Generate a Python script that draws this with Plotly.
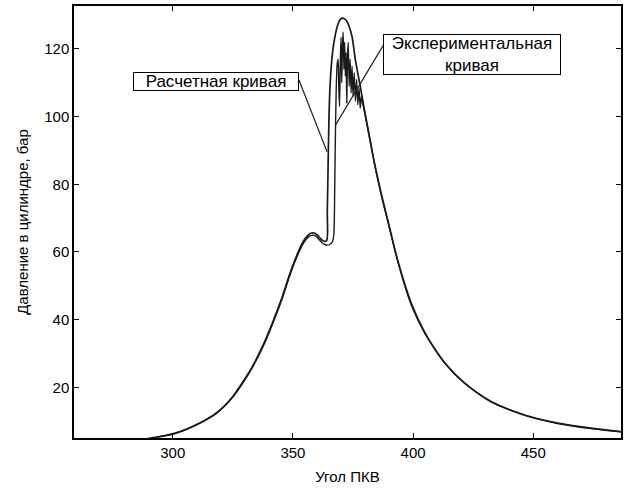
import plotly.graph_objects as go

# Calculated curve (Расчетная кривая)
calc_angle = [287, 290.3, 295, 300, 305, 309.7, 314, 318, 321.5, 324.9,
              329, 333.1, 337.3, 341.4, 345.6, 348.3, 351.1, 353.9, 355.8, 357.3,
              358.8, 360.1, 361.2, 362.1, 363.2, 364.0, 364.3, 364.6, 365.0, 365.5,
              366.2, 367, 368.4, 369.4, 370.4, 371.5, 372.5, 373.6, 374.6, 376,
              378, 380, 382, 384, 386, 388, 390, 393.9, 399.4, 405,
              413.3, 421.5, 432.6, 446.4, 460.2, 474, 486.5]
calc_pressure = [4.4, 4.9, 5.5, 6.2, 7.4, 8.9, 10.5, 12.3, 14.5, 17.2,
                 21.4, 26.1, 32.0, 38.9, 46.8, 52.7, 58.1, 62.6, 64.6, 65.5,
                 65.6, 65.0, 64.2, 63.5, 63.1, 63.3, 72, 84, 100, 110,
                 117, 121.7, 126.6, 128.4, 129.1, 128.9, 128.1, 126.2, 123.6, 116.7,
                 109, 101, 93.5, 86, 79.5, 73.5, 67.8, 56.7, 44.5, 36,
                 27.1, 21.2, 15.7, 11.8, 9.4, 7.9, 6.9]

# Experimental curve (Экспериментальная кривая)
exp_angle = [287, 290.3, 295, 300, 305, 309.7, 314, 318, 321.5, 324.9,
             329, 333.1, 337.3, 341.4, 345.6, 348.3, 351.1, 353.9, 355.8, 357.3,
             358.8, 360.1, 361.2, 362.1, 363.2, 364.3, 365.3, 366.3, 367.0, 367.4,
             367.7, 368.0, 368.4, 368.8, 369.1, 369.4, 369.7, 370.0, 370.3, 370.6,
             370.9, 371.2, 371.5, 371.8, 372.1, 372.4, 372.7, 373.0, 373.4, 373.8,
             374.2, 374.6, 375.0, 375.5, 376.0, 376.5, 377.0, 377.5, 378.0, 378.5,
             379.0, 380, 382, 384, 386, 388, 390, 393.9, 399.4, 405,
             413.3, 421.5, 432.6, 446.4, 460.2, 474, 486.5]
exp_pressure = [4.3, 4.8, 5.4, 6.1, 7.3, 8.8, 10.4, 12.2, 14.4, 17.0,
                21.1, 25.8, 31.6, 38.5, 46.3, 52.2, 57.6, 62.0, 64.0, 64.8,
                64.9, 64.3, 63.4, 62.7, 62.2, 62.0, 62.2, 62.8, 65, 80,
                96, 108, 115.5, 117, 108, 103, 116, 123.5, 110, 121,
                125, 114, 122, 112, 119, 104, 118, 122, 109, 117,
                107, 115, 106, 113, 104.5, 111, 103.5, 108.5, 102.5, 106,
                104, 100.6, 93.2, 85.8, 79.2, 73.2, 67.5, 56.4, 44.0, 35.8,
                27.0, 21.1, 15.6, 11.7, 9.3, 7.8, 6.8]

x_ticks = [300, 350, 400, 450]
y_ticks = [20, 40, 60, 80, 100, 120]

x_title = "Угол ПКВ"
y_title = "Давление в цилиндре, бар"
label_calc = "Расчетная кривая"
label_exp = "Экспериментальная<br>кривая"

font_axis = "Liberation Sans, Arial, sans-serif"
font_label = "Liberation Sans, Arial, sans-serif"

fig = go.Figure()
fig.add_trace(go.Scatter(x=calc_angle, y=calc_pressure, mode="lines",
                         line=dict(color="#1a1a1a", width=1.7, shape="spline", smoothing=1.0),
                         showlegend=False))
fig.add_trace(go.Scatter(x=exp_angle, y=exp_pressure, mode="lines",
                         line=dict(color="#1a1a1a", width=1.4, shape="spline", smoothing=0.6),
                         showlegend=False))

# pointer lines
fig.add_shape(type="line", xref="x", yref="y", x0=352.5, y0=110.8, x1=364.2, y1=89.6,
              line=dict(color="#222", width=1.2))
fig.add_shape(type="line", xref="x", yref="y", x0=387.7, y0=121.2, x1=367.7, y1=97.5,
              line=dict(color="#222", width=1.2))

fig.add_annotation(x=318, y=110.5, xref="x", yref="y", text=label_calc, showarrow=False,
                   font=dict(family=font_label, size=17, color="black"),
                   width=164, height=17,
                   bgcolor="white", bordercolor="black", borderwidth=1, borderpad=0)
fig.add_annotation(x=424.6, y=118.5, xref="x", yref="y", text=label_exp, showarrow=False,
                   align="center", width=176, height=39,
                   font=dict(family=font_label, size=17, color="black"),
                   bgcolor="white", bordercolor="black", borderwidth=1, borderpad=0)

axis_common = dict(showline=True, linecolor="black", linewidth=1.5, mirror="ticks",
                   ticks="inside", ticklen=5, tickcolor="black", tickwidth=1.2,
                   showgrid=False, zeroline=False,
                   tickfont=dict(family=font_axis, size=15, color="black"))

fig.update_xaxes(range=[258.9, 486.5], tickvals=x_ticks,
                 title=dict(text=x_title, font=dict(family=font_axis, size=15, color="black"), standoff=12),
                 **axis_common)
fig.update_yaxes(range=[5.0, 132.7], tickvals=y_ticks,
                 title=dict(text=y_title, font=dict(family=font_axis, size=15, color="black"), standoff=12),
                 **axis_common)

fig.update_layout(width=625, height=491, margin=dict(l=74, r=2, t=6, b=53),
                  paper_bgcolor="white", plot_bgcolor="white")

fig.write_html("out.html")
